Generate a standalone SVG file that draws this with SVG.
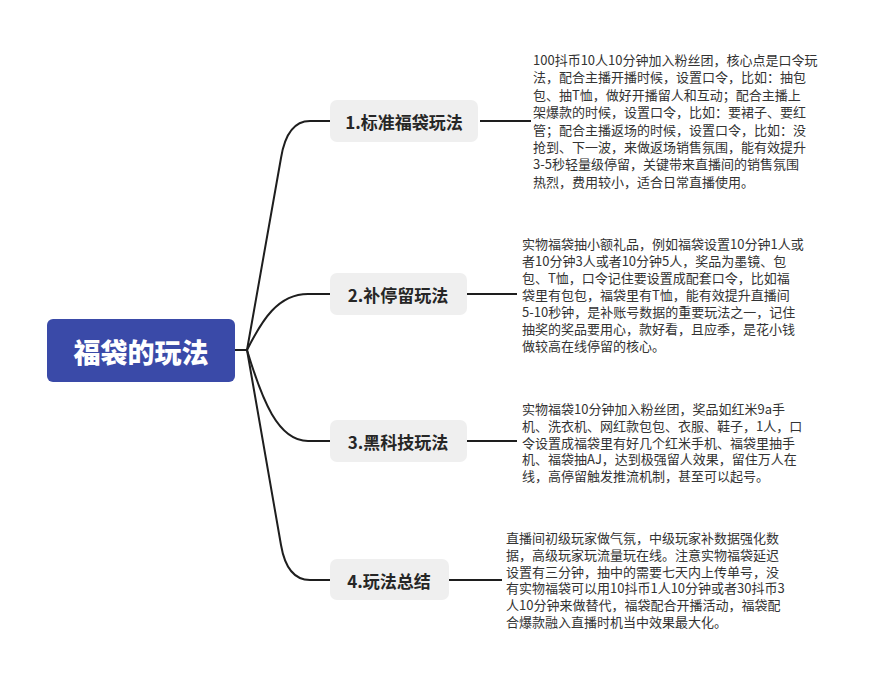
<svg xmlns="http://www.w3.org/2000/svg" width="871" height="684" viewBox="0 0 871 684">
<style>
.conn{fill:none;stroke:#1e1e1e;stroke-width:2;}
.node{fill:#efefef;}
.lbl{font-family:"Noto Sans CJK SC","Noto Sans",sans-serif;font-size:17px;font-weight:bold;fill:#262626;text-anchor:middle;dominant-baseline:central;}
.root{fill:#3a4aa8;}
.rootlbl{font-family:"Noto Sans CJK SC","Noto Sans",sans-serif;font-size:27px;font-weight:900;fill:#ffffff;text-anchor:middle;dominant-baseline:central;}
.desc{font-family:"Noto Sans CJK SC","Noto Sans",sans-serif;font-size:13px;fill:#333333;}
</style>
<rect width="871" height="684" fill="#ffffff"/>
<g id="connectors">
<path class="conn" d="M235,350 L247,350"/>
<path class="conn" d="M247,350 L281,158 Q287,121 310,121 L330,121"/>
<path class="conn" d="M247,350 C262,320 278,294 308,294 L330,294"/>
<path class="conn" d="M247,350 C262,400 278,441 308,441 L330,441"/>
<path class="conn" d="M247,350 L281,545 Q287,580 310,580 L330,580"/>
<path class="conn" d="M480,121 L531,121"/>
<path class="conn" d="M467,294 L517,294"/>
<path class="conn" d="M467,441 L517,441"/>
<path class="conn" d="M449,580 L502,580"/>
</g>
<g id="root">
<rect class="root" x="47" y="319" width="188" height="63" rx="6"/>
<text class="rootlbl" x="141" y="351">福袋的玩法</text>
</g>
<g id="n1">
<rect class="node" x="330" y="100" width="148" height="42" rx="7"/>
<text class="lbl" x="404" y="121">1.标准福袋玩法</text>
</g>
<g id="n2">
<rect class="node" x="330" y="273" width="137" height="42" rx="7"/>
<text class="lbl" x="398" y="294">2.补停留玩法</text>
</g>
<g id="n3">
<rect class="node" x="330" y="420" width="137" height="42" rx="7"/>
<text class="lbl" x="398" y="441">3.黑科技玩法</text>
</g>
<g id="n4">
<rect class="node" x="330" y="559" width="119" height="41" rx="7"/>
<text class="lbl" x="389" y="580">4.玩法总结</text>
</g>
<g id="d1">
<text class="desc" x="533" y="65"><tspan x="533" y="65">100抖币10人10分钟加入粉丝团，核心点是口令玩</tspan><tspan x="533" dy="17.4">法，配合主播开播时候，设置口令，比如：抽包</tspan><tspan x="533" dy="17.4">包、抽T恤，做好开播留人和互动；配合主播上</tspan><tspan x="533" dy="17.4">架爆款的时候，设置口令，比如：要裙子、要红</tspan><tspan x="533" dy="17.4">管；配合主播返场的时候，设置口令，比如：没</tspan><tspan x="533" dy="17.4">抢到、下一波，来做返场销售氛围，能有效提升</tspan><tspan x="533" dy="17.4">3-5秒轻量级停留，关键带来直播间的销售氛围</tspan><tspan x="533" dy="17.4">热烈，费用较小，适合日常直播使用。</tspan></text>
</g>
<g id="d2">
<text class="desc" x="522" y="249"><tspan x="522" y="249">实物福袋抽小额礼品，例如福袋设置10分钟1人或</tspan><tspan x="522" dy="17">者10分钟3人或者10分钟5人，奖品为墨镜、包</tspan><tspan x="522" dy="17">包、T恤，口令记住要设置成配套口令，比如福</tspan><tspan x="522" dy="17">袋里有包包，福袋里有T恤，能有效提升直播间</tspan><tspan x="522" dy="17">5-10秒钟，是补账号数据的重要玩法之一，记住</tspan><tspan x="522" dy="17">抽奖的奖品要用心，款好看，且应季，是花小钱</tspan><tspan x="522" dy="17">做较高在线停留的核心。</tspan></text>
</g>
<g id="d3">
<text class="desc" x="522" y="414"><tspan x="522" y="414">实物福袋10分钟加入粉丝团，奖品如红米9a手</tspan><tspan x="522" dy="16.8">机、洗衣机、网红款包包、衣服、鞋子，1人，口</tspan><tspan x="522" dy="16.8">令设置成福袋里有好几个红米手机、福袋里抽手</tspan><tspan x="522" dy="16.8">机、福袋抽AJ，达到极强留人效果，留住万人在</tspan><tspan x="522" dy="16.8">线，高停留触发推流机制，甚至可以起号。</tspan></text>
</g>
<g id="d4">
<text class="desc" x="506" y="543"><tspan x="506" y="543">直播间初级玩家做气氛，中级玩家补数据强化数</tspan><tspan x="506" dy="16.8">据，高级玩家玩流量玩在线。注意实物福袋延迟</tspan><tspan x="506" dy="16.8">设置有三分钟，抽中的需要七天内上传单号，没</tspan><tspan x="506" dy="16.8">有实物福袋可以用10抖币1人10分钟或者30抖币3</tspan><tspan x="506" dy="16.8">人10分钟来做替代，福袋配合开播活动，福袋配</tspan><tspan x="506" dy="16.8">合爆款融入直播时机当中效果最大化。</tspan></text>
</g>
</svg>
